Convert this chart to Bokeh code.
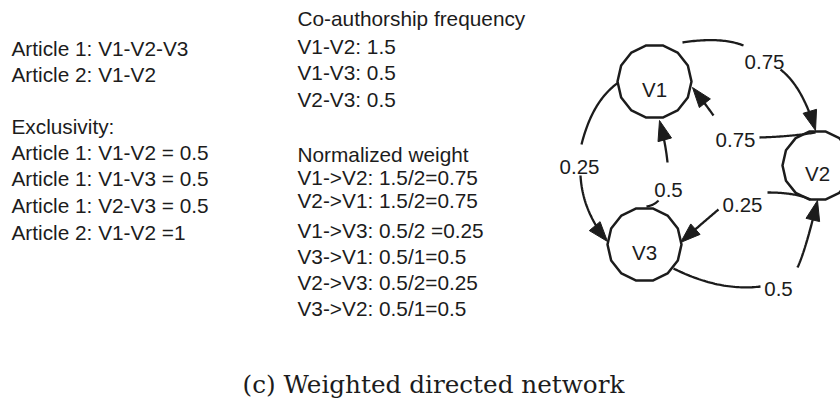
import numpy as np
from bokeh.plotting import figure
from bokeh.models import Range1d, ColumnDataSource
from bokeh.core.properties import value
from bokeh.embed import file_html
from bokeh.resources import INLINE

# ---------------- data ----------------
articles = ["Article 1: V1-V2-V3", "Article 2: V1-V2"]
exclusivity_title = "Exclusivity:"
exclusivity = ["Article 1: V1-V2 = 0.5", "Article 1: V1-V3 = 0.5",
               "Article 1: V2-V3 = 0.5", "Article 2: V1-V2 =1"]
freq_title = "Co-authorship frequency"
freq_pairs = ["V1-V2", "V1-V3", "V2-V3"]
freq_values = ["1.5", "0.5", "0.5"]
norm_title = "Normalized weight"
norm_edges = ["V1->V2", "V2->V1", "V1->V3", "V3->V1", "V2->V3", "V3->V2"]
norm_exprs = ["1.5/2=0.75", "1.5/2=0.75", "0.5/2 =0.25", "0.5/1=0.5", "0.5/2=0.25", "0.5/1=0.5"]
nodes = ["V1", "V2", "V3"]
edge_src = ["V1", "V2", "V1", "V3", "V2", "V3"]
edge_dst = ["V2", "V1", "V3", "V1", "V3", "V2"]
edge_weights = ["0.75", "0.75", "0.25", "0.5", "0.25", "0.5"]
caption = "(c) Weighted directed network"

# ---------------- layout (pixel coordinates of the picture) ----------------
LEFT_X = 11
LEFT_BASE = [56, 82, 134, 160, 186, 213, 240]
MID_X = 297
MID_BASE = [26, 54, 80, 107, 162, 185, 208, 238, 264, 290, 316]
CAP_X, CAP_BASE = 242, 392

node_pos = {"V1": (654, 89), "V2": (817, 173), "V3": (644, 252)}
node_r = {"V1": 37, "V2": 35, "V3": 37}
# per edge: first segment (P0, C, P1), label centre, second segment (P0, C, tip)
edge_geom = [
    (((682, 50), (720, 44), (743, 53)), (764, 62), ((780, 77), (802, 94), (815, 138))),
    (((815, 140), (790, 144), (759, 145)), (735, 140), ((713, 123), (703, 109), (692, 95))),
    (((618, 90), (592, 108), (581, 152)), (579, 167), ((580, 183), (582, 219), (607, 249))),
    (((646, 214), (653, 213), (658, 208)), (668, 190), ((667, 170), (665, 150), (659, 128))),
    (((810, 207), (795, 200), (767, 200)), (742, 205), ((718, 217), (699, 233), (680, 250))),
    (((673, 276), (719, 299), (760, 294)), (778, 289), ((797, 275), (805, 258), (817, 208))),
]

INK = "#1c1c1c"
SANS = value("Liberation Sans")
FS = "20.8px"

p = figure(width=840, height=398, output_backend="svg", toolbar_location=None,
           x_axis_type=None, y_axis_type=None, min_border=0,
           x_range=Range1d(0, 840), y_range=Range1d(406, 8))
p.outline_line_color = None
p.grid.visible = False
p.background_fill_color = "white"


def add_text(xs, ys, texts, align="left", font=SANS, size=FS):
    src = ColumnDataSource(dict(x=xs, y=ys, t=texts))
    p.text("x", "y", text="t", source=src, text_font=font, text_font_size=size,
           text_color=INK, text_align=align, text_baseline="alphabetic")


# left column
left_lines = articles + [exclusivity_title] + exclusivity
add_text([LEFT_X] * len(left_lines), LEFT_BASE, left_lines)

# middle column
mid_lines = [freq_title] + [f"{a}: {v}" for a, v in zip(freq_pairs, freq_values)] + \
            [norm_title] + [f"{e}: {x}" for e, x in zip(norm_edges, norm_exprs)]
add_text([MID_X] * len(mid_lines), MID_BASE, mid_lines)

# caption
add_text([CAP_X], [CAP_BASE], [caption], font=value("DejaVu Serif"), size="24.7px")

# nodes (faceted circles)
n_sides = 14
ang = np.pi / 2 + np.pi / n_sides + 2 * np.pi * np.arange(n_sides) / n_sides
p.patches([list(node_pos[n][0] + node_r[n] * np.cos(ang)) for n in nodes],
          [list(node_pos[n][1] + node_r[n] * np.sin(ang)) for n in nodes],
          fill_color="white", line_color=INK, line_width=2.5)
add_text([node_pos[n][0] for n in nodes], [node_pos[n][1] + 8 for n in nodes],
         nodes, align="center", size="20.5px")


def quad(P0, C, P1, n=40):
    t = np.linspace(0, 1, n)[:, None]
    P0, C, P1 = map(np.array, (P0, C, P1))
    return (1 - t) ** 2 * P0 + 2 * (1 - t) * t * C + t ** 2 * P1


xs_l, ys_l, hx, hy = [], [], [], []
AL, AW = 20, 7
for (segA, lab, segB) in edge_geom:
    a = quad(*segA)
    xs_l.append(list(a[:, 0])); ys_l.append(list(a[:, 1]))
    b = quad(*segB)
    tip = np.array(segB[2], dtype=float)
    d = tip - np.array(segB[1], dtype=float)
    d /= np.linalg.norm(d)
    keep = np.linalg.norm(b - tip, axis=1) > AL * 0.6
    xs_l.append(list(b[keep, 0])); ys_l.append(list(b[keep, 1]))
    nrm = np.array([-d[1], d[0]])
    base = tip - AL * d
    tri = [tip, base + AW * nrm, base - AW * nrm]
    hx.append([q[0] for q in tri]); hy.append([q[1] for q in tri])

p.multi_line(xs_l, ys_l, line_color=INK, line_width=2.3)
p.patches(hx, hy, fill_color=INK, line_color=INK, line_width=1)

add_text([g[1][0] for g in edge_geom], [g[1][1] + 7 for g in edge_geom],
         edge_weights, align="center", size="20.5px")

open("out.html", "w").write(file_html(p, INLINE))
